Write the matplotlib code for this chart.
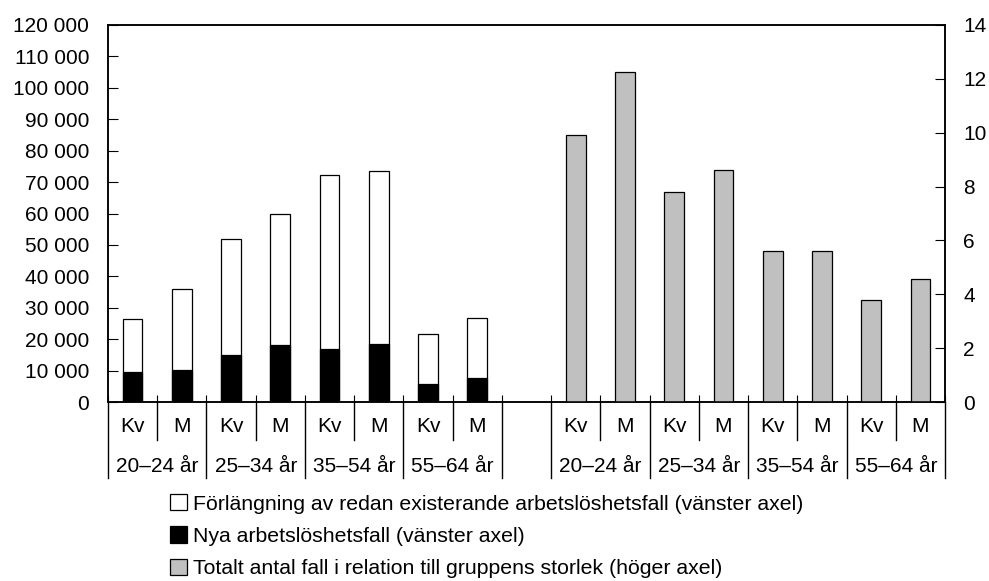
import numpy as np
import matplotlib.pyplot as plt
from matplotlib.patches import Patch

plt.rcParams['font.family'] = ['Liberation Sans', 'DejaVu Sans']

# data
kon = ['Kv', 'M'] * 4
aldrar = ['20–24 år', '25–34 år', '35–54 år', '55–64 år']
totalt_vanster = [26500, 35900, 52000, 60000, 72300, 73500, 21600, 26600]   # alla fall
nya_fall = [9700, 10200, 15000, 18200, 16900, 18500, 5800, 7500]
andel_hoger = [9.9, 12.27, 7.78, 8.61, 5.62, 5.59, 3.77, 4.56]

y_ticks = list(range(0, 120001, 10000))
y_ticklabels = ['{:,}'.format(v).replace(',', ' ') for v in y_ticks]
y2_ticks = list(range(0, 15, 2))

fs = 15
fig = plt.figure(figsize=(9.89, 5.81), dpi=100)
ax = fig.add_axes([108/989, 1-402/581, (945-108)/989, 377/581])
ax2 = ax.twinx()

x_left = np.arange(8)
x_right = np.arange(9, 17)
w = 0.4

ax.bar(x_left, totalt_vanster, w, color='white', edgecolor='black', linewidth=0.9, zorder=2)
ax.bar(x_left, nya_fall, w, color='black', edgecolor='black', linewidth=0.9, zorder=3)
ax2.bar(x_right, andel_hoger, w, color='#c0c0c0', edgecolor='black', linewidth=0.9, zorder=2)

ax.set_xlim(-0.5, 16.5)
ax.set_ylim(0, 120000)
ax2.set_ylim(0, 14)
ax.set_yticks(y_ticks)
ax.set_yticklabels(y_ticklabels, fontsize=fs)
ax2.set_yticks(y2_ticks)
ax2.set_yticklabels([str(v) for v in y2_ticks], fontsize=fs)
ax.tick_params(axis='y', direction='in', length=7, pad=13.5)
ax2.tick_params(axis='y', direction='in', length=7, pad=13)

gränser = np.arange(-0.5, 17, 1)
ax.set_xticks(gränser)
ax.set_xticklabels([])
ax.tick_params(axis='x', direction='in', length=5)

for a in (ax, ax2):
    for s in a.spines.values():
        s.set_linewidth(1.1)

# kategoritabell under axeln
tr = ax.get_xaxis_transform()
grupp_gränser = [-0.5, 1.5, 3.5, 5.5, 7.5, 8.5, 10.5, 12.5, 14.5, 16.5]
for b in gränser:
    botten = -0.202 if b in grupp_gränser else -0.101
    ax.plot([b, b], [0, botten], color='black', lw=1, transform=tr, clip_on=False)

for xs in (x_left, x_right):
    for xi, lab in zip(xs, kon):
        ax.text(xi, -0.066, lab, transform=tr, ha='center', va='center', fontsize=15)
    for i, lab in enumerate(aldrar):
        ax.text(xs[2*i] + 0.5, -0.172, lab, transform=tr, ha='center', va='center', fontsize=15)

handles = [Patch(facecolor='white', edgecolor='black', linewidth=0.9),
           Patch(facecolor='black', edgecolor='black', linewidth=0.9),
           Patch(facecolor='#c0c0c0', edgecolor='black', linewidth=0.9)]
labels = ['Förlängning av redan existerande arbetslöshetsfall (vänster axel)',
          'Nya arbetslöshetsfall (vänster axel)',
          'Totalt antal fall i relation till gruppens storlek (höger axel)']
fig.legend(handles, labels, loc='upper left', bbox_to_anchor=(170/989, 1-494/581),
           frameon=False, fontsize=15.3, handlelength=0.8, handleheight=0.8,
           handletextpad=0.3, labelspacing=0.6, borderpad=0, borderaxespad=0)

plt.savefig('out.png', dpi=100)
